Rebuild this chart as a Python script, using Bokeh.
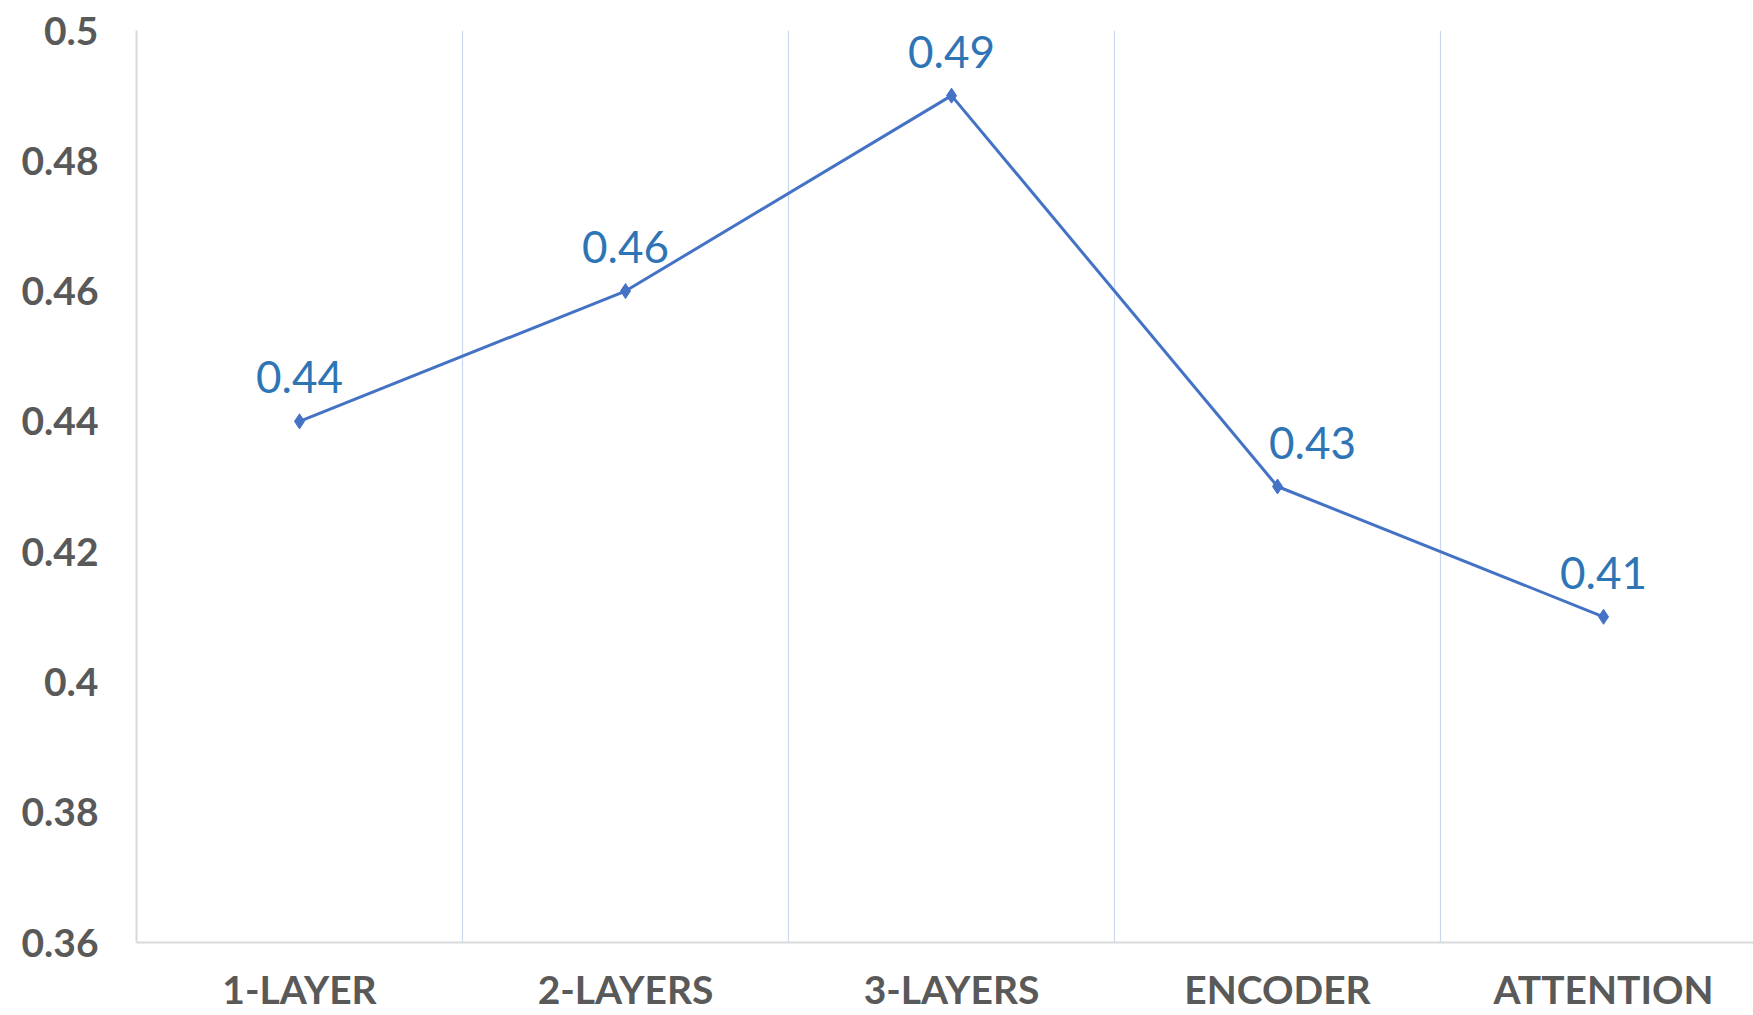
from bokeh.plotting import figure
from bokeh.models import ColumnDataSource, FixedTicker, Range1d, Grid, LabelSet
from bokeh.core.properties import value
from bokeh.embed import file_html
from bokeh.resources import INLINE

categories = ["1-LAYER", "2-LAYERS", "3-LAYERS", "ENCODER", "ATTENTION"]
values = [0.44, 0.46, 0.49, 0.43, 0.41]
value_labels = ["0.44", "0.46", "0.49", "0.43", "0.41"]
y_ticks = [0.36, 0.38, 0.40, 0.42, 0.44, 0.46, 0.48, 0.50]
y_tick_labels = ["0.36", "0.38", "0.4", "0.42", "0.44", "0.46", "0.48", "0.5"]
label_dx = [0, 0, 0, 35, 0]

xs = [i + 0.5 for i in range(len(categories))]
src = ColumnDataSource(dict(x=xs, y=values, lab=value_labels, dx=label_dx))

p = figure(width=1753, height=1015, output_backend="svg", toolbar_location=None,
           x_range=Range1d(0, 4.96), y_range=Range1d(0.36, 0.50),
           min_border_left=136, min_border_right=0, min_border_top=30, min_border_bottom=73)
p.outline_line_color = None
p.background_fill_color = "white"
p.border_fill_color = "white"

p.xgrid.visible = False
p.ygrid.visible = False
sep = Grid(dimension=0, ticker=FixedTicker(ticks=[1, 2, 3, 4, 5]),
           grid_line_color="#C9D8EC", grid_line_width=1.2)
p.add_layout(sep)

# axes
p.xaxis.ticker = FixedTicker(ticks=xs)
p.xaxis.major_label_overrides = {x: c for x, c in zip(xs, categories)}
p.yaxis.ticker = FixedTicker(ticks=y_ticks)
p.yaxis.major_label_overrides = {t: l for t, l in zip(y_ticks, y_tick_labels)}
for ax in (p.xaxis, p.yaxis):
    ax.major_tick_line_color = None
    ax.minor_tick_line_color = None
    ax.axis_line_color = "#D9D9D9"
    ax.axis_line_width = 2
    ax.major_label_text_font = "Lato"
    ax.major_label_text_font_style = "bold"
    ax.major_label_text_color = "#595959"
p.xaxis.major_label_text_font_size = "39px"
p.yaxis.major_label_text_font_size = "39px"
p.xaxis.major_label_standoff = 17
p.yaxis.major_label_standoff = 32

p.line("x", "y", source=src, line_color="#4472C4", line_width=3)
p.scatter("x", "y", source=src, marker="diamond", size=15, fill_color="#4472C4",
          line_color="#4472C4")

labels = LabelSet(x="x", y="y", text="lab", source=src, x_offset="dx", y_offset=28,
                  text_align="center", text_baseline="alphabetic",
                  text_font=value("Lato"), text_font_size="44px", text_color="#2E75B6")
p.add_layout(labels)

open("out.html", "w").write(file_html(p, INLINE))
